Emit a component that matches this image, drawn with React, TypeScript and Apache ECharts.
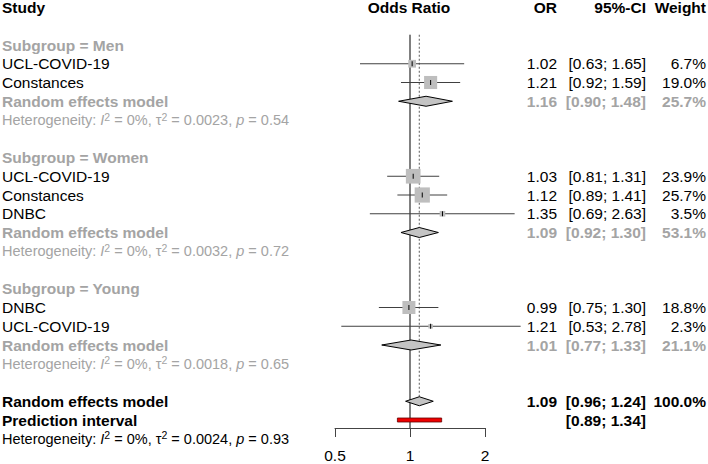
import React, { useEffect, useRef } from "react";
import * as echarts from "echarts";

// ---------- data ----------
const subgroupNames = ["Men", "Women", "Young"];
const studyLabels = ["UCL-COVID-19", "Constances", "UCL-COVID-19", "Constances", "DNBC", "DNBC", "UCL-COVID-19"];
const studyGroup = [0, 0, 1, 1, 1, 2, 2];
const studyOR = [1.02, 1.21, 1.03, 1.12, 1.35, 0.99, 1.21];
const studyLower = [0.63, 0.92, 0.81, 0.89, 0.69, 0.75, 0.53];
const studyUpper = [1.65, 1.59, 1.31, 1.41, 2.63, 1.3, 2.78];
const studyWeight = [6.7, 19.0, 23.9, 25.7, 3.5, 18.8, 2.3];

const groupOR = [1.16, 1.09, 1.01];
const groupLower = [0.9, 0.92, 0.77];
const groupUpper = [1.48, 1.3, 1.33];
const groupWeight = [25.7, 53.1, 21.1];
const groupI2 = ["0", "0", "0"];
const groupTau2 = ["0.0023", "0.0032", "0.0018"];
const groupP = ["0.54", "0.72", "0.65"];

const overallOR = [1.09];
const overallLower = [0.96];
const overallUpper = [1.24];
const overallWeight = [100.0];
const predLower = [0.89];
const predUpper = [1.34];
const overallI2 = "0";
const overallTau2 = "0.0024";
const overallP = "0.93";

const axisTicks = [0.5, 1, 2];
const headerLabels = ["Study", "Odds Ratio", "OR", "95%-CI", "Weight"];

// ---------- layout ----------
const FONT = '"Liberation Sans", Arial, Helvetica, sans-serif';
const FS = 15.5;
const HFS = 14.5;
const GRAY = "#a4a4a4";
const ROW_H = 18.75;
const GRID_TOP = 7.5;
const GRID_BOTTOM = 36;
const H = 464;
const Y_MIN = -2;
const Y_MAX = Y_MIN + (H - GRID_TOP - GRID_BOTTOM) / ROW_H;
const COL_STUDY = 2;
const COL_OR = 557;
const COL_CI = 646;
const COL_W = 706;
const COL_PLOT_CENTER = 409;

const f2 = (v: number) => v.toFixed(2);
const ci = (l: number, u: number) => `[${f2(l)}; ${f2(u)}]`;
const pct = (v: number) => v.toFixed(1) + "%";

type Entry = {
  row: number;
  x: number;
  text: string;
  align: "left" | "right" | "center";
  bold: boolean;
  color: string;
  het?: boolean;
};

export default function App() {
  const ref = useRef<HTMLDivElement>(null);

  useEffect(() => {
    document.body.style.margin = "0";
    const chart = echarts.init(ref.current!, null, { renderer: "svg" });

    // row assignment
    const headRow: number[] = [];
    const studyRow: number[] = [];
    const groupRow: number[] = [];
    const hetRow: number[] = [];
    let r = 0;
    subgroupNames.forEach((_, g) => {
      headRow[g] = r++;
      studyLabels.forEach((_, i) => {
        if (studyGroup[i] === g) studyRow[i] = r++;
      });
      groupRow[g] = r++;
      hetRow[g] = r++;
      r++;
    });
    const overallRow = r++;
    const predRow = r++;
    const hetAllRow = r++;

    const entries: Entry[] = [];
    const HEAD = -2;
    entries.push({ row: HEAD, x: COL_STUDY, text: headerLabels[0], align: "left", bold: true, color: "#000" });
    entries.push({ row: HEAD, x: COL_PLOT_CENTER, text: headerLabels[1], align: "center", bold: true, color: "#000" });
    entries.push({ row: HEAD, x: COL_OR, text: headerLabels[2], align: "right", bold: true, color: "#000" });
    entries.push({ row: HEAD, x: COL_CI, text: headerLabels[3], align: "right", bold: true, color: "#000" });
    entries.push({ row: HEAD, x: COL_W, text: headerLabels[4], align: "right", bold: true, color: "#000" });

    subgroupNames.forEach((name, g) => {
      entries.push({ row: headRow[g], x: COL_STUDY, text: `Subgroup = ${name}`, align: "left", bold: true, color: GRAY });
      studyLabels.forEach((s, i) => {
        if (studyGroup[i] !== g) return;
        const rr = studyRow[i];
        entries.push({ row: rr, x: COL_STUDY, text: s, align: "left", bold: false, color: "#000" });
        entries.push({ row: rr, x: COL_OR, text: f2(studyOR[i]), align: "right", bold: false, color: "#000" });
        entries.push({ row: rr, x: COL_CI, text: ci(studyLower[i], studyUpper[i]), align: "right", bold: false, color: "#000" });
        entries.push({ row: rr, x: COL_W, text: pct(studyWeight[i]), align: "right", bold: false, color: "#000" });
      });
      const gr = groupRow[g];
      entries.push({ row: gr, x: COL_STUDY, text: "Random effects model", align: "left", bold: true, color: GRAY });
      entries.push({ row: gr, x: COL_OR, text: f2(groupOR[g]), align: "right", bold: true, color: GRAY });
      entries.push({ row: gr, x: COL_CI, text: ci(groupLower[g], groupUpper[g]), align: "right", bold: true, color: GRAY });
      entries.push({ row: gr, x: COL_W, text: pct(groupWeight[g]), align: "right", bold: true, color: GRAY });
      entries.push({
        row: hetRow[g], x: COL_STUDY, align: "left", bold: false, color: GRAY, het: true,
        text: `{a|Heterogeneity: }{i|I}{s|2}{a| = ${groupI2[g]}%, τ}{s|2}{a| = ${groupTau2[g]}, }{i|p}{a| = ${groupP[g]}}`,
      });
    });

    entries.push({ row: overallRow, x: COL_STUDY, text: "Random effects model", align: "left", bold: true, color: "#000" });
    entries.push({ row: overallRow, x: COL_OR, text: f2(overallOR[0]), align: "right", bold: true, color: "#000" });
    entries.push({ row: overallRow, x: COL_CI, text: ci(overallLower[0], overallUpper[0]), align: "right", bold: true, color: "#000" });
    entries.push({ row: overallRow, x: COL_W, text: pct(overallWeight[0]), align: "right", bold: true, color: "#000" });
    entries.push({ row: predRow, x: COL_STUDY, text: "Prediction interval", align: "left", bold: true, color: "#000" });
    entries.push({ row: predRow, x: COL_CI, text: ci(predLower[0], predUpper[0]), align: "right", bold: true, color: "#000" });
    entries.push({
      row: hetAllRow, x: COL_STUDY, align: "left", bold: false, color: "#000", het: true,
      text: `{a|Heterogeneity: }{i|I}{s|2}{a| = ${overallI2}%, τ}{s|2}{a| = ${overallTau2}, }{i|p}{a| = ${overallP}}`,
    });

    const studyData = studyOR.map((v, i) => [v, studyRow[i], studyLower[i], studyUpper[i], studyWeight[i]]);
    const diamondData = [
      ...groupOR.map((v, g) => [v, groupRow[g], groupLower[g], groupUpper[g], 5]),
      [overallOR[0], overallRow, overallLower[0], overallUpper[0], 4.5],
    ];
    const predData = [[overallOR[0], predRow, predLower[0], predUpper[0]]];
    const refData = [
      [1, -0.55, Y_MAX, 0],
      [overallOR[0], -0.55, overallRow + 0.15, 1],
    ];

    const option: any = {
      animation: false,
      grid: {
        left: 335,
        right: 708 - 485,
        top: GRID_TOP,
        bottom: GRID_BOTTOM,
        containLabel: false,
        outerBoundsMode: "none",
      },
      xAxis: {
        type: "log",
        logBase: 2,
        min: axisTicks[0],
        max: axisTicks[axisTicks.length - 1],
        splitLine: { show: false },
        axisLine: { show: true, onZero: false, lineStyle: { color: "#444", width: 1 } },
        axisTick: { show: true, length: 9, lineStyle: { color: "#444", width: 1 } },
        axisLabel: {
          show: true,
          margin: 19,
          fontSize: FS,
          fontFamily: FONT,
          color: "#000",
          formatter: (v: number) => String(+Number(v).toPrecision(3)),
        },
      },
      yAxis: {
        type: "value",
        inverse: true,
        min: Y_MIN,
        max: Y_MAX,
        show: false,
        splitLine: { show: false },
      },
      series: [
        {
          type: "custom",
          clip: false,
          silent: true,
          data: refData,
          renderItem: (params: any, api: any) => {
            const x = api.value(0);
            const p0 = api.coord([x, api.value(1)]);
            const p1 = api.coord([x, api.value(2)]);
            const dotted = api.value(3) === 1;
            return {
              type: "line",
              shape: { x1: p0[0], y1: p0[1], x2: p1[0], y2: p1[1] },
              style: dotted
                ? { stroke: "#777", lineWidth: 1.2, lineDash: [2, 2] }
                : { stroke: "#000", lineWidth: 1 },
            };
          },
        },
        {
          type: "custom",
          clip: false,
          silent: true,
          data: studyData,
          renderItem: (params: any, api: any) => {
            const c = api.coord([api.value(0), api.value(1)]);
            const lo = api.coord([api.value(2), api.value(1)]);
            const hi = api.coord([api.value(3), api.value(1)]);
            const s = 3.0 * Math.sqrt(api.value(4));
            return {
              type: "group",
              children: [
                { type: "line", shape: { x1: lo[0], y1: c[1], x2: hi[0], y2: c[1] }, style: { stroke: "#404040", lineWidth: 1 } },
                { type: "rect", shape: { x: c[0] - s / 2, y: c[1] - s / 2, width: s, height: s }, style: { fill: "#bebebe" } },
                { type: "line", shape: { x1: c[0], y1: c[1] - 2.5, x2: c[0], y2: c[1] + 2.5 }, style: { stroke: "#000", lineWidth: 1 } },
              ],
            };
          },
        },
        {
          type: "custom",
          clip: false,
          silent: true,
          data: diamondData,
          renderItem: (params: any, api: any) => {
            const c = api.coord([api.value(0), api.value(1)]);
            const lo = api.coord([api.value(2), api.value(1)]);
            const hi = api.coord([api.value(3), api.value(1)]);
            const h = api.value(4);
            return {
              type: "polygon",
              shape: { points: [[lo[0], c[1]], [c[0], c[1] - h], [hi[0], c[1]], [c[0], c[1] + h]] },
              style: { fill: "#c4c4c4", stroke: "#000", lineWidth: 1 },
            };
          },
        },
        {
          type: "custom",
          clip: false,
          silent: true,
          data: predData,
          renderItem: (params: any, api: any) => {
            const c = api.coord([api.value(0), api.value(1)]);
            const lo = api.coord([api.value(2), api.value(1)]);
            const hi = api.coord([api.value(3), api.value(1)]);
            return {
              type: "rect",
              shape: { x: lo[0], y: c[1] - 2, width: hi[0] - lo[0], height: 4 },
              style: { fill: "#ee0000", stroke: "#600", lineWidth: 0.8 },
            };
          },
        },
        {
          type: "custom",
          clip: false,
          silent: true,
          data: entries.map((e) => [1, e.row]),
          renderItem: (params: any, api: any) => {
            const e = entries[params.dataIndex];
            const y = api.coord([1, e.row])[1];
            if (e.het) {
              return {
                type: "text",
                x: e.x,
                y,
                style: {
                  text: e.text,
                  align: "left",
                  verticalAlign: "middle",
                  rich: {
                    a: { fontSize: HFS, fontFamily: FONT, fill: e.color },
                    i: { fontSize: HFS, fontFamily: FONT, fontStyle: "italic", fill: e.color },
                    s: { fontSize: 10.5, fontFamily: FONT, fill: e.color, padding: [0, 0, 7, 0] },
                  },
                },
              };
            }
            return {
              type: "text",
              x: e.x,
              y,
              style: {
                text: e.text,
                fill: e.color,
                align: e.align,
                verticalAlign: "middle",
                fontSize: FS,
                fontFamily: FONT,
                fontWeight: e.bold ? "bold" : "normal",
              },
            };
          },
        },
      ],
    };

    chart.setOption(option);
    return () => chart.dispose();
  }, []);

  return <div ref={ref} style={{ width: 708, height: 464 }} />;
}
